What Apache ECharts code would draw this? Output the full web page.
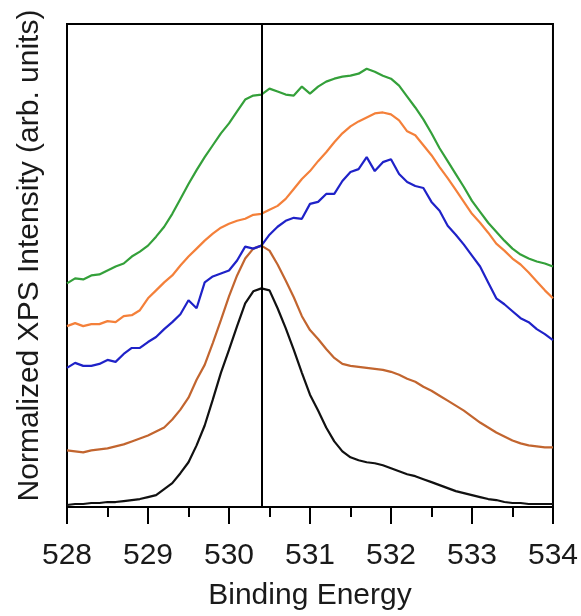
<!DOCTYPE html>
<html>
<head>
<meta charset="utf-8">
<script src="https://cdn.jsdelivr.net/npm/echarts@6/dist/echarts.min.js"></script>
<style>
html, body { margin: 0; padding: 0; background: #fff; }
#xps_div { width: 581px; height: 616px; }
</style>
</head>
<body>
<div id="xps_div"></div>
<script>
/*
 * O 1s XPS 谱图 (528 - 534 eV, 步长 0.1 eV)
 */
var energy = [];
for (var i = 0; i <= 60; i++) {
	energy.push(+(528 + i * 0.1).toFixed(1));
}
var xTicks = [528, 529, 530, 531, 532, 533, 534];
var peakLine = 530.4;

var blackData = [2, 3, 3, 4, 4, 5, 5, 6, 7, 8, 10, 12, 18, 24, 34, 45, 62, 82, 108, 135,
	158, 182, 205, 217, 220, 218, 200, 180, 158, 135, 113, 97, 80, 66, 56, 50, 47, 45, 44, 42,
	39, 36, 33, 31, 28, 25, 22, 19, 16, 14, 12, 10, 8, 7, 5, 4, 4, 3, 3, 3, 3];
var brownData = [57, 56, 55, 57, 58, 59, 61, 63, 66, 69, 72, 76, 80, 88, 98, 110, 128, 143, 165, 188,
	212, 233, 250, 260, 263, 258, 244, 228, 211, 192, 178, 169, 159, 150, 144, 142, 141, 140, 139, 138,
	136, 133, 129, 126, 121, 117, 112, 107, 102, 97, 91, 85, 80, 75, 71, 67, 64, 62, 61, 60, 60];
var blueData = [140, 145, 142, 142, 144, 148, 146, 154, 160, 160, 166, 171, 179, 186, 194, 208, 200, 226, 232, 235,
	238, 248, 262, 260, 263, 274, 282, 288, 291, 290, 305, 307, 315, 315, 328, 337, 340, 352, 338, 347,
	350, 335, 327, 323, 321, 307, 298, 283, 274, 264, 253, 242, 226, 210, 204, 197, 190, 186, 179, 174, 168];
var orangeData = [182, 185, 182, 184, 184, 187, 186, 192, 193, 198, 210, 218, 226, 233, 243, 252, 260, 268, 275, 281,
	285, 288, 290, 294, 295, 299, 303, 310, 320, 330, 338, 348, 357, 367, 376, 383, 388, 392, 396, 397,
	395, 389, 378, 374, 364, 354, 342, 331, 319, 307, 295, 286, 276, 265, 258, 250, 244, 236, 227, 218, 210];
var greenData = [225, 230, 229, 233, 234, 238, 242, 245, 252, 257, 263, 272, 282, 295, 310, 325, 339, 352, 364, 376,
	386, 398, 410, 414, 415, 421, 418, 415, 414, 423, 416, 423, 428, 431, 433, 434, 436, 441, 438, 434,
	431, 424, 413, 402, 390, 376, 361, 348, 335, 322, 308, 297, 286, 277, 268, 260, 254, 250, 247, 245, 242];

function pairs(arr) {
	var out = [];
	for (var i = 0; i < arr.length; i++) {
		out.push([energy[i], arr[i]]);
	}
	return out;
}

function lineSeries(name, color, arr) {
	return {
		name: name,
		type: 'line',
		data: pairs(arr),
		showSymbol: false,
		symbol: 'none',
		smooth: false,
		lineStyle: { color: color, width: 2.2 },
		itemStyle: { color: color }
	};
}

var chartXps = echarts.init(document.getElementById('xps_div'), null, { renderer: 'canvas' });
var series = [
	lineSeries('black', '#111111', blackData),
	lineSeries('brown', '#c2652f', brownData),
	lineSeries('blue', '#1f22c8', blueData),
	lineSeries('orange', '#f4803a', orangeData),
	lineSeries('green', '#34a03a', greenData)
];
// 竖直参考线
series[0].markLine = {
	silent: true,
	symbol: ['none', 'none'],
	label: { show: false },
	lineStyle: { color: '#000', width: 2, type: 'solid' },
	data: [{ xAxis: peakLine }]
};

var xps_option = {
	backgroundColor: '#fff',
	animation: false,
	grid: {
		left: 67,
		right: 28,
		top: 24,
		bottom: 106,
		show: true,
		borderColor: '#000',
		borderWidth: 2
	},
	xAxis: {
		type: 'value',
		min: xTicks[0],
		max: xTicks[xTicks.length - 1],
		interval: 1,
		name: 'Binding Energy',
		nameLocation: 'middle',
		nameGap: 74,
		nameTextStyle: { fontFamily: 'Liberation Sans', fontSize: 30, color: '#1a1a1a' },
		axisLine: { show: true, onZero: false, lineStyle: { color: '#000', width: 2 } },
		axisTick: { show: true, inside: false, length: 17, lineStyle: { color: '#000', width: 2 } },
		minorTick: { show: true, splitNumber: 2, length: 10, lineStyle: { color: '#000', width: 2 } },
		axisLabel: { fontFamily: 'Liberation Sans', fontSize: 30, color: '#1a1a1a', margin: 34 },
		splitLine: { show: false }
	},
	yAxis: {
		type: 'value',
		min: 0,
		max: 486,
		name: 'Normalized XPS Intensity (arb. units)',
		nameLocation: 'middle',
		nameGap: 22,
		nameTextStyle: { fontFamily: 'Liberation Sans', fontSize: 30, color: '#1a1a1a', padding: [0, 0, 0, 20] },
		axisLine: { show: false },
		axisTick: { show: false },
		axisLabel: { show: false },
		splitLine: { show: false }
	},
	series: series
};
chartXps.setOption(xps_option, true);
</script>
</body>
</html>
